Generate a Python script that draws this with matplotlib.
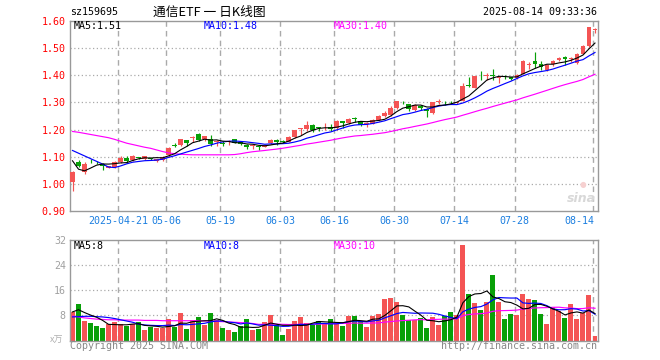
import numpy as np
import pandas as pd
import matplotlib
matplotlib.use('Agg')
import matplotlib.pyplot as plt
from matplotlib.transforms import blended_transform_factory

# ---------------- data ----------------
opens = [1.008, 1.082, 1.042, 1.085, 1.080, 1.073, 1.059, 1.062, 1.081, 1.097,
         1.089, 1.096, 1.091, 1.094, 1.086, 1.089, 1.107, 1.141, 1.144, 1.160,
         1.168, 1.183, 1.165, 1.166, 1.155, 1.152, 1.155, 1.165, 1.153, 1.144,
         1.140, 1.141, 1.137, 1.152, 1.162, 1.157, 1.156, 1.172, 1.201, 1.203,
         1.218, 1.206, 1.208, 1.209, 1.205, 1.230, 1.226, 1.240, 1.231, 1.222,
         1.221, 1.236, 1.251, 1.255, 1.279, 1.301, 1.294, 1.273, 1.287, 1.277,
         1.261, 1.303, 1.301, 1.301, 1.297, 1.306, 1.363, 1.355, 1.397, 1.398,
         1.400, 1.390, 1.393, 1.392, 1.390, 1.405, 1.439, 1.451, 1.442, 1.418,
         1.443, 1.455, 1.467, 1.460, 1.445, 1.479, 1.507, 1.566]
closes = [1.042, 1.066, 1.074, 1.083, 1.079, 1.064, 1.064, 1.082, 1.097, 1.084,
          1.103, 1.095, 1.101, 1.093, 1.091, 1.099, 1.132, 1.140, 1.165, 1.152,
          1.169, 1.162, 1.175, 1.148, 1.156, 1.146, 1.156, 1.152, 1.147, 1.134,
          1.141, 1.136, 1.143, 1.162, 1.154, 1.156, 1.172, 1.197, 1.202, 1.218,
          1.199, 1.205, 1.209, 1.201, 1.230, 1.224, 1.240, 1.239, 1.218, 1.224,
          1.236, 1.251, 1.261, 1.279, 1.304, 1.300, 1.276, 1.292, 1.279, 1.269,
          1.300, 1.304, 1.300, 1.300, 1.300, 1.359, 1.362, 1.396, 1.396, 1.399,
          1.399, 1.391, 1.392, 1.387, 1.402, 1.454, 1.440, 1.442, 1.431, 1.437,
          1.454, 1.464, 1.460, 1.461, 1.479, 1.509, 1.578, 1.567]
highs = [1.049, 1.087, 1.081, 1.090, 1.085, 1.078, 1.066, 1.084, 1.101, 1.101,
         1.106, 1.100, 1.103, 1.097, 1.093, 1.101, 1.136, 1.150, 1.167, 1.162,
         1.176, 1.187, 1.178, 1.180, 1.162, 1.158, 1.163, 1.167, 1.156, 1.147,
         1.147, 1.143, 1.145, 1.166, 1.164, 1.162, 1.175, 1.198, 1.205, 1.230,
         1.220, 1.211, 1.225, 1.219, 1.234, 1.232, 1.242, 1.248, 1.233, 1.227,
         1.238, 1.253, 1.270, 1.287, 1.306, 1.305, 1.296, 1.295, 1.291, 1.280,
         1.302, 1.311, 1.307, 1.307, 1.303, 1.372, 1.394, 1.398, 1.415, 1.409,
         1.424, 1.396, 1.402, 1.395, 1.405, 1.456, 1.450, 1.485, 1.451, 1.441,
         1.458, 1.467, 1.470, 1.468, 1.483, 1.511, 1.579, 1.575]
lows = [0.975, 1.062, 1.037, 1.078, 1.074, 1.052, 1.057, 1.058, 1.077, 1.077,
        1.085, 1.090, 1.089, 1.088, 1.081, 1.086, 1.100, 1.134, 1.141, 1.140,
        1.153, 1.158, 1.158, 1.140, 1.140, 1.140, 1.143, 1.150, 1.143, 1.129,
        1.129, 1.126, 1.135, 1.147, 1.145, 1.150, 1.154, 1.170, 1.180, 1.195,
        1.190, 1.193, 1.200, 1.195, 1.197, 1.205, 1.222, 1.228, 1.214, 1.210,
        1.219, 1.233, 1.248, 1.251, 1.277, 1.296, 1.268, 1.270, 1.272, 1.246,
        1.258, 1.294, 1.291, 1.294, 1.294, 1.304, 1.356, 1.352, 1.383, 1.383,
        1.383, 1.370, 1.386, 1.383, 1.387, 1.403, 1.425, 1.428, 1.418, 1.416,
        1.436, 1.452, 1.438, 1.448, 1.440, 1.477, 1.505, 1.556]
volumes = [9.1, 11.6, 6.2, 5.6, 4.6, 4.1, 5.2, 5.9, 5.2, 4.6,
           5.2, 5.8, 3.3, 4.4, 3.9, 3.9, 6.8, 4.4, 8.7, 3.6,
           6.5, 7.6, 5.0, 8.9, 6.5, 4.0, 3.3, 2.7, 4.6, 6.8,
           3.4, 3.6, 5.9, 8.1, 4.9, 1.7, 3.6, 6.2, 7.4, 5.6,
           4.9, 6.2, 5.6, 6.8, 5.2, 4.6, 7.8, 7.8, 6.2, 4.3,
           7.8, 8.4, 13.2, 13.5, 12.2, 8.1, 6.5, 6.5, 7.1, 4.0,
           7.4, 4.9, 7.8, 9.0, 8.1, 30.3, 14.8, 11.9, 9.7, 12.2,
           20.8, 12.2, 6.8, 8.4, 8.1, 14.8, 13.2, 12.9, 8.4, 5.2,
           10.6, 9.4, 7.1, 11.6, 6.8, 8.7, 14.4, 1.4]

# moving-average values at the start of the window (they depend on earlier days)
ma5_head = [1.085, 1.054, 1.048, 1.058]
ma10_head = [1.123, 1.113, 1.103, 1.093, 1.083, 1.073, 1.062, 1.060, 1.066]
ma30_head = [1.193, 1.190, 1.186, 1.182, 1.178, 1.174, 1.170, 1.164, 1.157, 1.150,
             1.145, 1.140, 1.135, 1.131, 1.125, 1.119, 1.114, 1.111, 1.109, 1.108,
             1.107, 1.107, 1.107, 1.107, 1.107, 1.107, 1.107, 1.108, 1.111]
vma5_head = [9.1, 9.8, 8.9, 8.1]
vma10_head = [7.5, 7.6, 7.7, 7.7, 7.6, 7.5, 7.3, 7.0, 6.6]
vma30_head = [7.8, 7.5, 7.2, 7.0, 6.8, 6.7, 6.6, 6.6, 6.5, 6.5,
              6.5, 6.5, 6.4, 6.4, 6.4, 6.3, 6.3, 6.3, 6.3, 6.3,
              6.3, 6.3, 6.2, 6.2, 6.1, 6.0, 5.9, 5.8, 5.7]

tick_idx = [8, 16, 25, 35, 44, 54, 64, 74, 87]
tick_labels = ['2025-04-21', '05-06', '05-19', '06-03', '06-16', '06-30',
               '07-14', '07-28', '08-14']
price_ticks = [0.90, 1.00, 1.10, 1.20, 1.30, 1.40, 1.50, 1.60]
vol_ticks = [8, 16, 24, 32]

# ---------------- styling ----------------
RED = '#f45454'
GREEN = '#08a008'
GRID = '#aaaaaa'
FRAME = '#999999'
XBLUE = '#1c7fe0'
MONO = 'DejaVu Sans Mono'
FS = 7.2

def ma(values, n, head):
    s = pd.Series(values, dtype=float).rolling(n).mean().to_numpy()
    s[:len(head)] = head
    return s

W, H = 660, 360
fig = plt.figure(figsize=(6.6, 3.6), dpi=100)

def px(x, y):
    return x / W, 1 - y / H

ax = fig.add_axes([70 / W, 1 - 211 / H, 528 / W, 190 / H])
axv = fig.add_axes([70 / W, 1 - 340.5 / H, 528 / W, 100.5 / H])

n = len(closes)
x = np.arange(n)
o = np.array(opens); c = np.array(closes)
h = np.array(highs); l = np.array(lows)
v = np.array(volumes)
up = c >= o
cols = np.where(up, RED, GREEN)

for a in (ax, axv):
    a.set_xlim(-2.5 / 6, n - 0.5 + 0.5 / 6 - 1 / 12)
    for sp in a.spines.values():
        sp.set_color(FRAME)
        sp.set_linewidth(1.0)
    a.set_xticks([])
    for t in tick_idx:
        a.axvline(t - 0.4, color=GRID, lw=1.0, ls=(0, (4, 3)), zorder=0)
    a.tick_params(axis='y', length=0, pad=3)

# main panel
ax.set_ylim(0.90, 1.60)
for p in price_ticks[1:-1]:
    ax.axhline(p, color=GRID, lw=0.9, ls=(0, (1, 2)), zorder=0)
ax.set_yticks(price_ticks)
ax.set_yticklabels(['%.2f' % p for p in price_ticks], color='#ff0000',
                   fontfamily=MONO, fontsize=FS)

ax.vlines(x, l, h, colors=cols, lw=0.85, zorder=2)
body_bottom = np.minimum(o, c)
body_h = np.maximum(np.abs(c - o), 0.003)
ax.bar(x, body_h, bottom=body_bottom, width=0.8, color=cols, lw=0, zorder=3)

ax.plot(x, ma(closes, 30, ma30_head), color='#ff00ff', lw=0.85, zorder=4)
ax.plot(x, ma(closes, 10, ma10_head), color='#0000ff', lw=0.85, zorder=4)
ax.plot(x, ma(closes, 5, ma5_head), color='#000000', lw=0.8, zorder=5)

# x labels
tr = blended_transform_factory(ax.transData, ax.transAxes)
for i, (t, lab) in enumerate(zip(tick_idx, tick_labels)):
    ha = 'right' if i == len(tick_idx) - 1 else 'center'
    xx = t - 0.4 if ha == 'center' else t - 0.1
    ax.text(xx, -0.053, lab, transform=tr, ha=ha, va='center', color=XBLUE,
            fontfamily=MONO, fontsize=FS)

# volume panel
axv.set_ylim(0, 32)
for p in vol_ticks[:-1]:
    axv.axhline(p, color=GRID, lw=0.9, ls=(0, (1, 2)), zorder=0)
axv.set_yticks(vol_ticks)
axv.set_yticklabels([str(t) for t in vol_ticks], color='#a0a0a0',
                    fontfamily=MONO, fontsize=FS)
axv.bar(x, v, width=0.83, color=cols, lw=0, zorder=2)
axv.plot(x, ma(volumes, 30, vma30_head), color='#ff00ff', lw=0.85, zorder=3)
axv.plot(x, ma(volumes, 10, vma10_head), color='#0000ff', lw=0.85, zorder=3)
axv.plot(x, ma(volumes, 5, vma5_head), color='#000000', lw=0.8, zorder=4)

# texts
fig.text(*px(70, 12), 'sz159695', ha='left', va='center', fontfamily=MONO,
         fontsize=FS, color='#000000')
fig.text(*px(209, 12), '通信ETF 一 日K线图', ha='center', va='center',
         family=['Noto Sans CJK SC', 'DejaVu Sans'], fontsize=9.2, color='#000000')
fig.text(*px(597, 12), '2025-08-14 09:33:36', ha='right', va='center',
         fontfamily=MONO, fontsize=FS, color='#000000')

fig.text(*px(74, 26), 'MA5:1.51', ha='left', va='center', fontfamily=MONO,
         fontsize=FS, color='#000000')
fig.text(*px(204, 26), 'MA10:1.48', ha='left', va='center', fontfamily=MONO,
         fontsize=FS, color='#0000ff')
fig.text(*px(334, 26), 'MA30:1.40', ha='left', va='center', fontfamily=MONO,
         fontsize=FS, color='#ff00ff')

fig.text(*px(74, 246), 'MA5:8', ha='left', va='center', fontfamily=MONO,
         fontsize=FS, color='#000000')
fig.text(*px(204, 246), 'MA10:8', ha='left', va='center', fontfamily=MONO,
         fontsize=FS, color='#0000ff')
fig.text(*px(334, 246), 'MA30:10', ha='left', va='center', fontfamily=MONO,
         fontsize=FS, color='#ff00ff')

fig.text(*px(70, 346), 'Copyright 2025 SINA.COM', ha='left', va='center',
         fontfamily=MONO, fontsize=FS, color='#888888')
fig.text(*px(597, 346), 'http://finance.sina.com.cn', ha='right', va='center',
         fontfamily=MONO, fontsize=FS, color='#888888')
fig.text(*px(63, 340), 'x万', ha='right', va='center',
         family=['Noto Sans CJK SC', 'DejaVu Sans'], fontsize=6.5, color='#b0b0b0')

# faint sina watermark
fig.text(*px(581, 199), 'sina', ha='center', va='center', fontsize=9,
         fontstyle='italic', fontweight='bold', color='#d8d8d8')
fig.text(*px(583, 184), '●', ha='center', va='center', fontsize=5.5,
         color='#f6d0d0')

fig.savefig('out.png', dpi=100)
